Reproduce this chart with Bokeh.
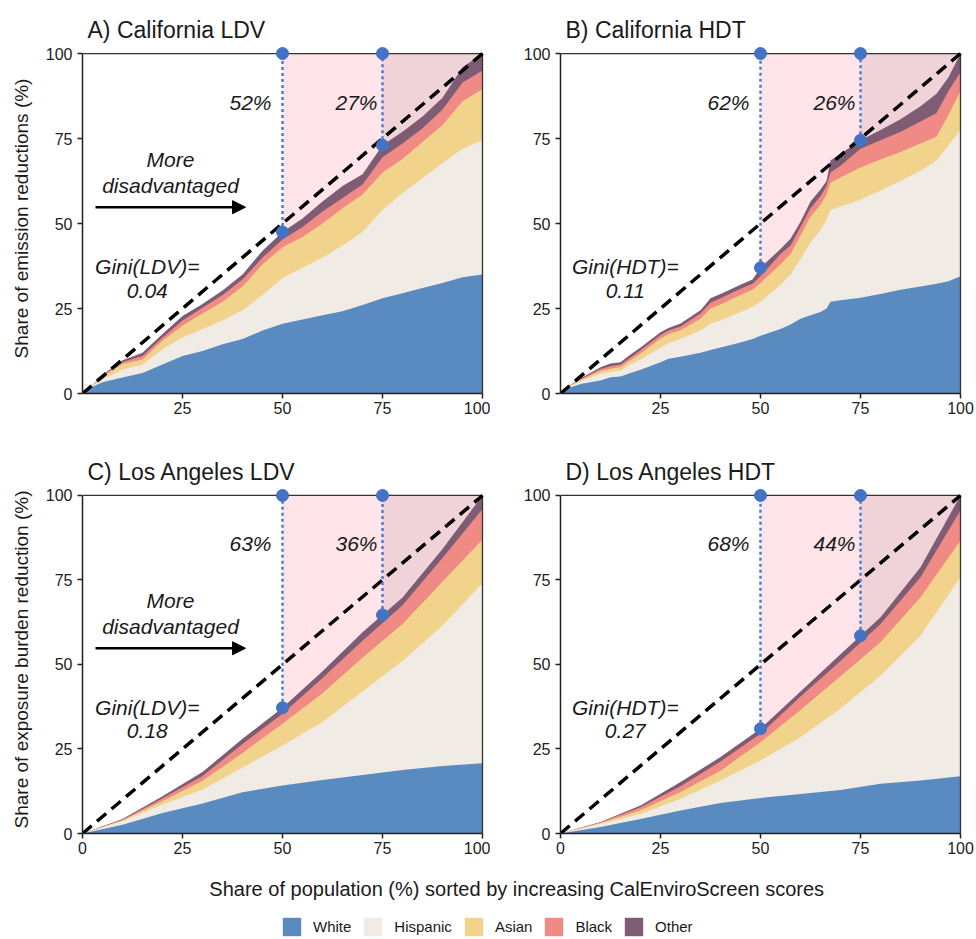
from bokeh.plotting import figure
from bokeh.models import Range1d, FixedTicker, Arrow, NormalHead, Legend, LegendItem
from bokeh.layouts import column, row
from bokeh.embed import file_html
from bokeh.resources import INLINE
from bokeh.core.properties import value
import numpy as np

FONT = "Liberation Sans"

groups = ["White", "Hispanic", "Asian", "Black", "Other"]
colors = ["#5A8BC0", "#F1EBE5", "#F2D38C", "#F08A85", "#7E5C74"]
thresholds = [50, 75]

# ---- A) California LDV : cumulative upper bounds of the stacked groups ----
a_x = [0, 2.5, 5, 10, 15, 20, 25, 30, 35, 40, 45, 50, 55, 60, 65, 70, 75, 80, 85, 90, 95, 100]
a_white = [0, 2.0, 3.3, 4.7, 6.0, 8.5, 11.0, 12.5, 14.5, 16.0, 18.5, 20.5, 21.8, 23.0, 24.2, 26.0, 28.0, 29.5, 31.0, 32.5, 34.2, 35.0]
a_hispanic = [0, 2.3, 4.2, 7.0, 8.5, 13.0, 16.5, 19.0, 21.5, 24.5, 29.0, 34.0, 37.0, 40.0, 43.5, 47.5, 54.0, 59.0, 63.3, 67.8, 72.0, 74.5]
a_asian = [0, 2.4, 5.0, 8.7, 10.0, 15.5, 20.0, 23.5, 27.0, 31.5, 38.0, 43.0, 46.0, 50.0, 54.5, 58.5, 65.0, 69.0, 74.0, 79.0, 86.0, 89.5]
a_black = [0, 2.45, 5.3, 9.3, 11.0, 16.5, 21.5, 25.2, 29.0, 33.5, 40.0, 45.3, 49.0, 53.5, 57.5, 61.5, 69.5, 73.5, 78.0, 83.5, 91.5, 95.0]
a_other = [0, 2.5, 5.5, 9.8, 12.0, 17.5, 22.8, 26.3, 30.3, 35.0, 42.0, 47.5, 51.5, 56.5, 61.0, 64.5, 73.0, 77.0, 81.5, 87.0, 96.0, 100.0]
a_pct = ["52%", "27%"]
a_gini = ["Gini(LDV)=", "0.04"]

# ---- B) California HDT ----
b_x = [0, 2.5, 5, 10, 12.5, 15, 17.5, 20, 25, 27, 30, 35, 37.5, 40, 45, 48, 50, 55, 57.5, 60, 62.5, 65, 66.5, 67.5, 70, 75, 80, 85, 90, 94, 97, 100]
b_white = [0, 1.8, 2.8, 3.8, 4.8, 5.0, 6.0, 7.0, 9.2, 10.2, 10.8, 12.0, 12.8, 13.5, 15.0, 16.0, 17.0, 19.0, 20.3, 22.0, 23.0, 24.0, 25.0, 27.0, 27.4, 28.2, 29.3, 30.5, 31.5, 32.3, 33.0, 34.5]
b_hispanic = [0, 2.2, 3.6, 5.8, 6.3, 6.8, 8.5, 10.0, 13.5, 14.8, 16.0, 18.5, 20.5, 21.5, 24.0, 25.5, 27.0, 32.0, 35.0, 39.5, 44.5, 48.0, 51.0, 54.0, 55.0, 57.0, 59.7, 62.5, 65.5, 68.5, 73.0, 77.5]
b_asian = [0, 2.4, 4.0, 6.6, 7.3, 7.8, 9.8, 11.8, 16.2, 17.5, 18.6, 22.0, 25.0, 26.2, 29.0, 30.5, 32.5, 38.0, 41.0, 46.5, 52.0, 55.5, 58.5, 62.0, 63.5, 66.5, 68.8, 71.0, 73.5, 75.5, 82.0, 89.0]
b_black = [0, 2.5, 4.2, 7.2, 8.0, 8.5, 10.6, 12.7, 17.2, 18.5, 19.7, 23.5, 26.7, 28.0, 30.8, 32.3, 34.5, 41.0, 43.5, 49.0, 54.5, 58.0, 61.0, 65.0, 67.0, 72.0, 74.5, 77.0, 80.0, 82.5, 89.0, 94.5]
b_other = [0, 2.6, 4.4, 7.7, 8.8, 9.2, 11.5, 13.5, 18.0, 19.3, 20.6, 24.5, 28.0, 29.3, 32.0, 33.5, 37.0, 42.5, 45.5, 50.5, 56.5, 60.0, 62.5, 68.5, 70.5, 74.5, 77.5, 80.7, 84.5, 88.2, 93.0, 100.0]
b_pct = ["62%", "26%"]
b_gini = ["Gini(HDT)=", "0.11"]

# ---- C) Los Angeles LDV ----
c_x = [0, 10, 20, 30, 40, 50, 60, 70, 80, 90, 100]
c_white = [0, 2.6, 6.1, 8.9, 12.2, 14.2, 15.8, 17.3, 18.8, 20.0, 20.8]
c_hispanic = [0, 3.6, 8.6, 13.0, 19.5, 26.0, 33.0, 42.0, 51.0, 61.5, 74.0]
c_asian = [0, 3.9, 9.6, 15.6, 23.8, 32.5, 41.5, 52.0, 62.0, 74.5, 87.0]
c_black = [0, 4.1, 10.4, 17.0, 26.5, 35.4, 46.0, 57.0, 67.5, 81.5, 96.0]
c_other = [0, 4.3, 11.0, 18.2, 28.0, 37.2, 48.0, 59.5, 69.8, 84.2, 100.0]
c_pct = ["63%", "36%"]
c_gini = ["Gini(LDV)=", "0.18"]

# ---- D) Los Angeles HDT ----
d_x = [0, 10, 20, 30, 40, 50, 60, 70, 80, 90, 100]
d_white = [0, 1.9, 4.3, 6.8, 9.0, 10.5, 11.7, 12.9, 14.7, 15.7, 16.9]
d_hispanic = [0, 2.8, 5.8, 10.3, 15.7, 21.6, 28.5, 37.0, 46.7, 58.6, 75.8]
d_asian = [0, 3.1, 6.9, 12.3, 18.6, 27.0, 36.5, 46.5, 56.6, 69.9, 86.7]
d_black = [0, 3.3, 7.8, 14.0, 21.3, 29.5, 40.5, 51.0, 62.0, 75.8, 95.6]
d_other = [0, 3.4, 8.3, 15.2, 22.6, 31.0, 42.0, 53.0, 64.0, 78.8, 100.0]
d_pct = ["68%", "44%"]
d_gini = ["Gini(HDT)=", "0.27"]

more_text = ["More", "disadvantaged"]
x_label = "Share of population (%) sorted by increasing  CalEnviroScreen scores"

PINK1 = "#FFE4E9"
PINK2 = "#F0D3D9"
BLUE = "#4472C4"
LINE_BLUE = "#4A7FD8"
INK = "#1a1a1a"
Y_END = 102.95
X_END = 100.5
FULL = 100


def panel(title, xs, tops, pcts, gini, more, ylabel, xticks, width, height,
          mb_left, mb_top, mb_bottom):
    p = figure(width=width, height=height, x_range=Range1d(0, X_END), y_range=Range1d(0, Y_END),
               output_backend="svg", toolbar_location=None,
               min_border_left=mb_left, min_border_right=width - mb_left - 402,
               min_border_top=mb_top, min_border_bottom=mb_bottom)
    p.outline_line_color = None
    p.grid.visible = False
    p.title.text = title
    p.title.text_font = FONT
    p.title.text_font_size = "23px"
    p.title.text_font_style = "normal"
    p.title.text_color = INK
    p.title.align = "left"
    p.title.offset = 5
    p.title.standoff = 2

    for ax in (p.xaxis[0], p.yaxis[0]):
        ax.axis_line_color = "#222222"
        ax.axis_line_width = 1.5
        ax.major_tick_line_color = "#222222"
        ax.major_tick_line_width = 1.5
        ax.major_tick_out = 5
        ax.major_tick_in = 0
        ax.minor_tick_line_color = None
        ax.major_label_text_font = FONT
        ax.major_label_text_font_size = "16px"
        ax.major_label_text_color = "#222222"
        ax.bounds = (0, FULL)
    p.xaxis.ticker = FixedTicker(ticks=xticks)
    p.yaxis.ticker = FixedTicker(ticks=[0, 25, 50, 75, 100])
    p.xaxis.major_label_standoff = 3
    p.yaxis.major_label_standoff = 5
    if ylabel:
        p.yaxis.axis_label = ylabel
        p.yaxis.axis_label_text_font = FONT
        p.yaxis.axis_label_text_font_size = "19px"
        p.yaxis.axis_label_text_font_style = "normal"
        p.yaxis.axis_label_text_color = INK
        p.yaxis.axis_label_standoff = 11

    # shaded population shares
    p.quad(left=thresholds, right=[FULL] * 2, bottom=[0, 0], top=[FULL] * 2,
           fill_color=[PINK1, PINK2], line_color=None)

    # stacked areas (drawn from the total downwards to avoid seams)
    for top, col in reversed(list(zip(tops, colors))):
        p.varea(x=xs, y1=[0] * len(xs), y2=top, fill_color=col)

    # frame top / right
    p.segment(x0=[0, FULL], y0=[FULL, 0], x1=[FULL, FULL], y1=[FULL, FULL],
              line_color="#333333", line_width=1.3)

    # equality line
    p.line([0, FULL], [0, FULL], line_color="black", line_width=3.5, line_dash="12 7")

    total = tops[-1]
    ys = [float(np.interp(t, xs, total)) for t in thresholds]
    p.segment(x0=thresholds, y0=ys, x1=thresholds, y1=[FULL] * 2,
              line_color=LINE_BLUE, line_width=2.5, line_dash="3 3")
    p.scatter(x=thresholds * 2, y=ys + [FULL] * 2, size=12, color=BLUE)

    common = dict(text_font=value(FONT), text_font_size="21px", text_font_style="italic",
                  text_align="center", text_baseline="middle", text_color=INK)
    p.text(x=[42, 68.5], y=[85.7, 85.7], text=pcts, **common)
    p.text(x=[16.2, 16.2], y=[37.4, 30.2], text=gini, **common)
    if more:
        p.text(x=[22, 22], y=[68.8, 61.1], text=more_text, **common)
        p.add_layout(Arrow(end=NormalHead(size=13, fill_color="black", line_color="black"),
                           x_start=3.25, y_start=54.8, x_end=40.75, y_end=54.8,
                           line_width=2.5, line_color="black"))
    return p


pA = panel("A) California LDV", a_x, [a_white, a_hispanic, a_asian, a_black, a_other],
           a_pct, a_gini, True, "Share of emission reductions (%)", [25, 50, 75, 100],
           490, 440, 82, 43, 47)
pB = panel("B) California HDT", b_x, [b_white, b_hispanic, b_asian, b_black, b_other],
           b_pct, b_gini, False, None, [25, 50, 75, 100],
           484, 440, 70, 43, 47)
pC = panel("C) Los Angeles LDV", c_x, [c_white, c_hispanic, c_asian, c_black, c_other],
           c_pct, c_gini, True, "Share of exposure burden reduction (%)", [0, 25, 50, 75, 100],
           490, 420, 82, 45, 27)
pD = panel("D) Los Angeles HDT", d_x, [d_white, d_hispanic, d_asian, d_black, d_other],
           d_pct, d_gini, False, None, [0, 25, 50, 75, 100],
           484, 420, 70, 45, 27)

bot = figure(width=974, height=78, x_range=Range1d(0, 974), y_range=Range1d(78, 0),
             output_backend="svg", toolbar_location=None,
             x_axis_location=None, y_axis_location=None, min_border=0)
bot.outline_line_color = None
bot.grid.visible = False
bot.text(x=[519], y=[28], text=[x_label], text_font=value(FONT), text_font_size="20px",
         text_align="center", text_baseline="middle", text_color=INK)
items = []
for g, col in zip(groups, colors):
    # zero-height area: only its legend swatch is visible
    r = bot.varea(x=[0], y1=[0], y2=[0], fill_color=col)
    items.append(LegendItem(label=g, renderers=[r]))
leg = Legend(items=items, orientation="horizontal", location=(280, 0),
             glyph_width=23, glyph_height=23, label_standoff=10, spacing=10,
             padding=0, margin=0, border_line_color=None, background_fill_alpha=0,
             label_text_font=FONT, label_text_font_size="15px", label_text_color=INK)
bot.add_layout(leg)

layout = column(row(pA, pB), row(pC, pD), bot)
open("out.html", "w").write(file_html(layout, INLINE))
